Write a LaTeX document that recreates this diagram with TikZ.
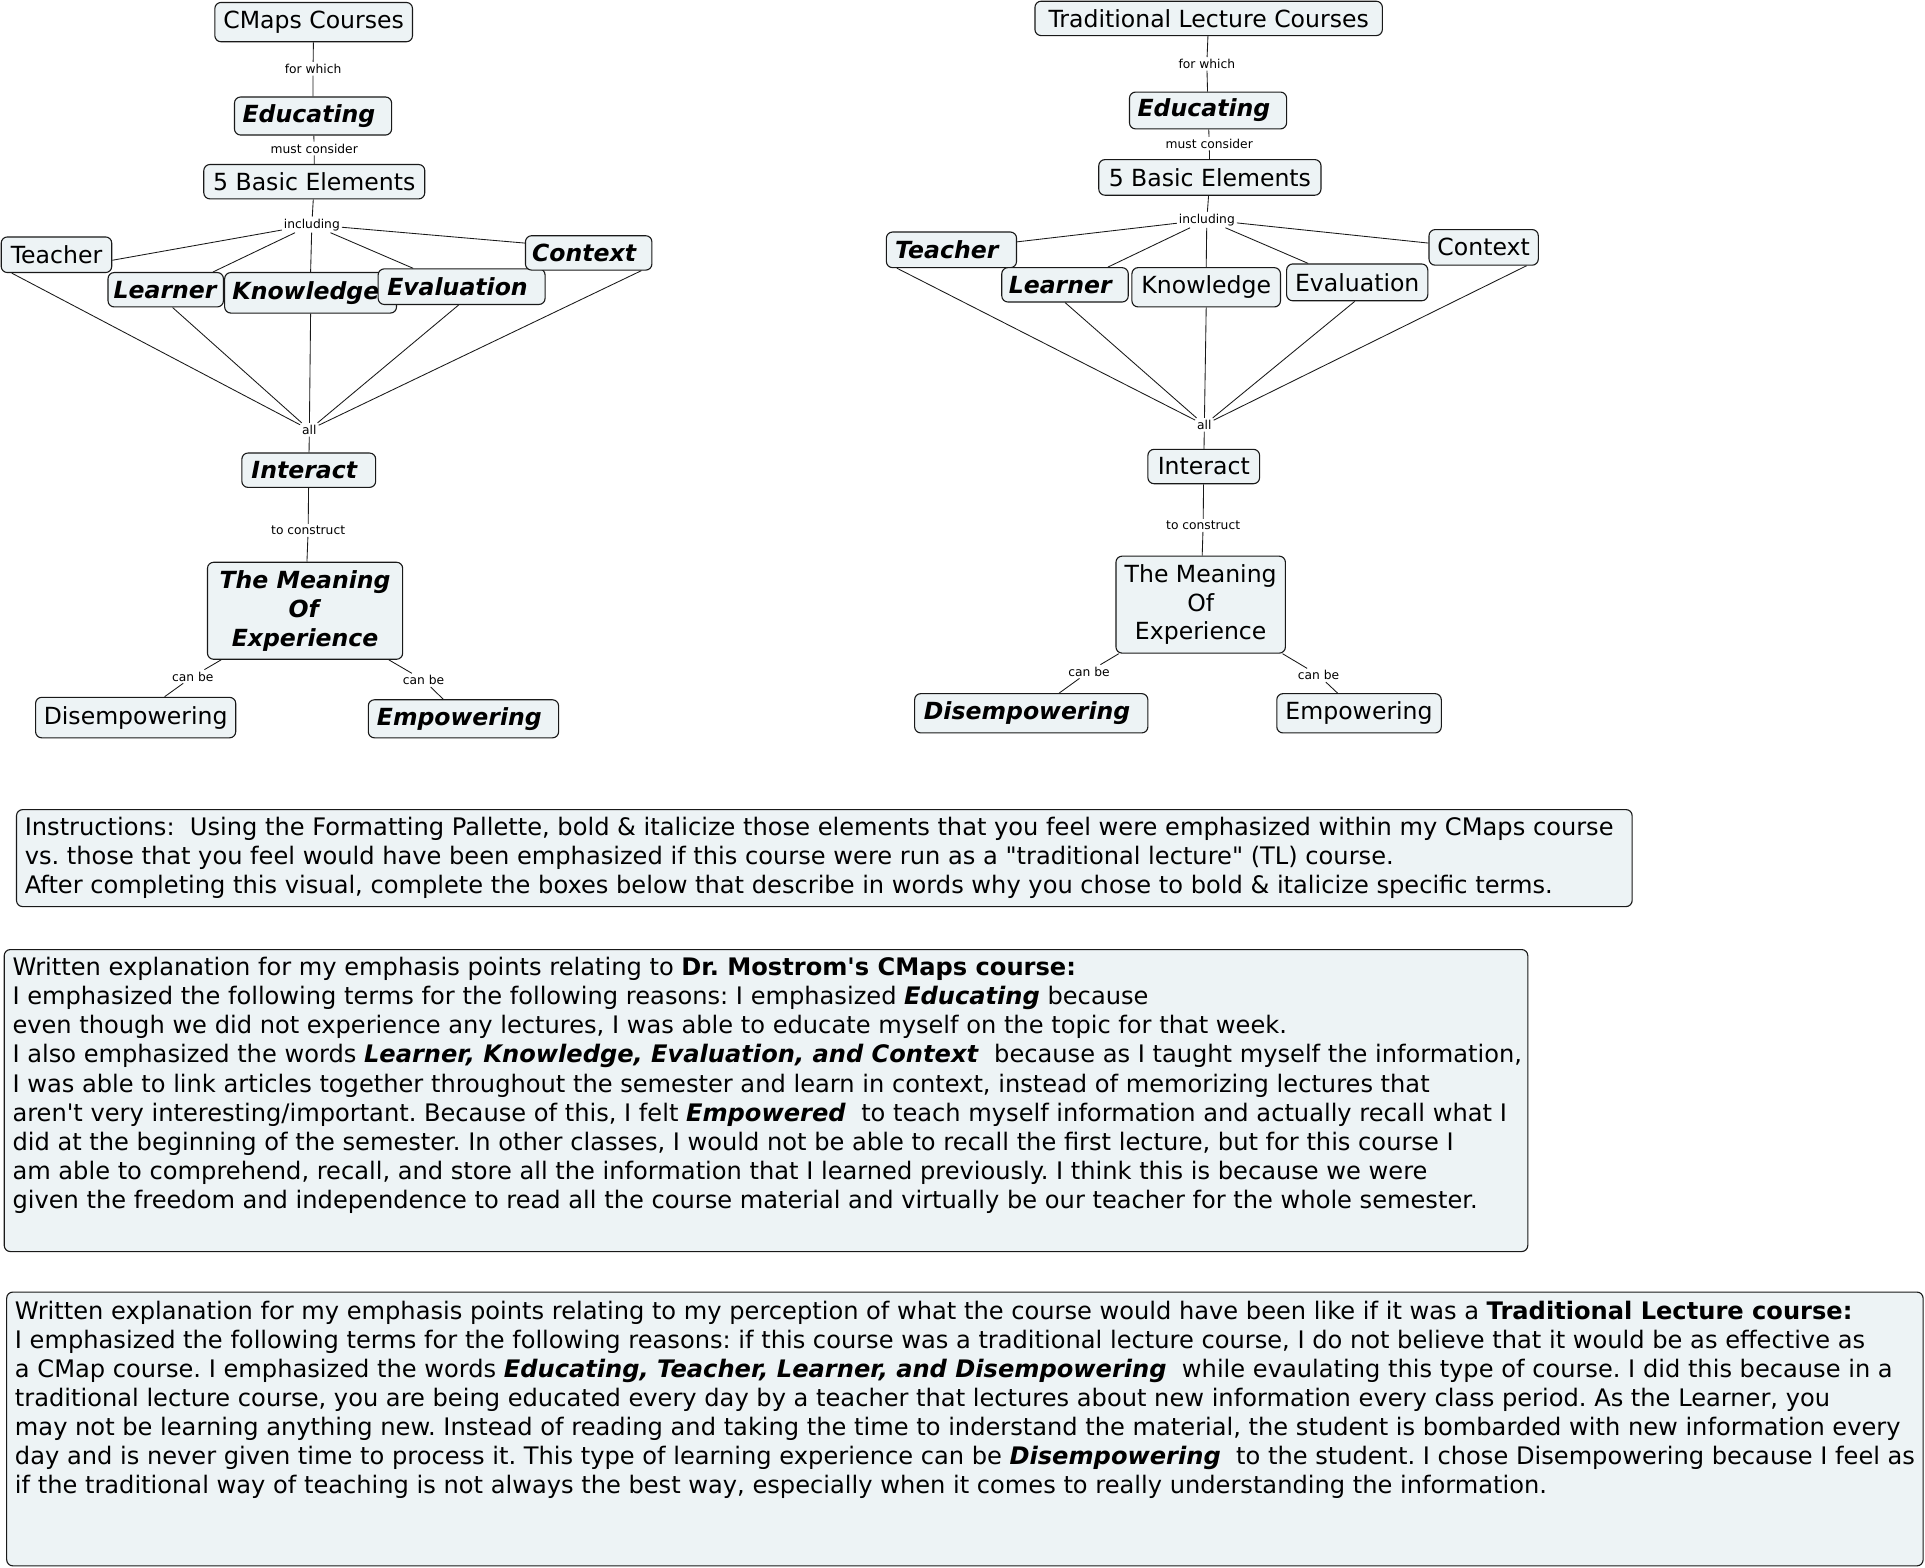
\documentclass[tikz,border=0pt]{standalone}
\usepackage{fontspec}
\setmainfont{DejaVu Sans}[Ligatures=TeXOff]
\usetikzlibrary{calc}
\definecolor{boxfill}{RGB}{237,243,245}
\definecolor{edge}{RGB}{25,25,25}
\newcommand{\bix}[1]{\textbf{\textit{#1}}}
\newcommand{\bic}[1]{\textbf{\textit{#1}}\hspace*{0.35em}}
\frenchspacing
\begin{document}
\begin{tikzpicture}[x=1pt,y=1pt,
  concept/.style={draw=edge, fill=boxfill, rounded corners=5pt, line width=0.9pt, inner sep=0pt, align=center, font=\fontsize{19.2}{23.5}\selectfont},
  linklab/.style={inner sep=1.5pt, font=\fontsize{10}{12}\selectfont},
  conn/.style={draw=edge, line width=0.7pt},
  textbox/.style={draw=edge, fill=boxfill, rounded corners=5pt, line width=0.9pt, inner sep=0pt, anchor=north west},
  bodyline/.style={anchor=base west, inner sep=0pt, font=\fontsize{19.65}{23.7}\selectfont}
]
\useasboundingbox (0,0) rectangle (1568,-1277.2);

% ---------------- left map ----------------
\node[concept, minimum width=161pt, minimum height=32pt] (cmapsL) at (255.5,-18) {CMaps Courses};
\node[concept, minimum width=128pt, minimum height=31pt] (educL) at (255,-94.5) {\bic{Educating}};
\node[concept, minimum width=180pt, minimum height=28pt] (basicL) at (256,-148) {5 Basic Elements};
\node[concept, minimum width=90pt, minimum height=29pt] (teachL) at (46,-207.5) {Teacher};
\node[concept, minimum width=94pt, minimum height=28pt] (learnL) at (135,-236) {\bix{Learner}};
\node[concept, minimum width=140pt, minimum height=33pt] (knowL) at (253,-238.5) {\bix{Knowledge}\hspace*{0.4em}};
\node[concept, minimum width=136pt, minimum height=29pt] (evalL) at (376,-233.5) {\bic{Evaluation}};
\node[concept, minimum width=103pt, minimum height=28pt] (contL) at (479.5,-206) {\bic{Context}};
\node[concept, minimum width=109pt, minimum height=28pt] (interL) at (251.5,-383) {\bic{Interact}};
\node[concept, minimum width=159pt, minimum height=79pt] (meanL) at (248.5,-497.5) {\bix{The Meaning}\\\bix{Of}\\\bix{Experience}};
\node[concept, minimum width=163pt, minimum height=33pt] (disL) at (110.5,-584.5) {Disempowering};
\node[concept, minimum width=155pt, minimum height=31pt] (empL) at (377.5,-585.5) {\bic{Empowering}};

\node[linklab] (forL) at (255,-56) {for which};
\node[linklab] (mustL) at (256,-121) {must consider};
\node[linklab] (inclL) at (254,-183) {including};
\node[linklab] (allL) at (252,-350) {all};
\node[linklab] (constrL) at (251,-432) {to construct};
\node[linklab] (canL1) at (157,-551) {can be};
\node[linklab] (canL2) at (345,-554) {can be};

\draw[conn] (cmapsL) -- (forL) -- (educL);
\draw[conn] (educL) -- (mustL) -- (basicL);
\draw[conn] (basicL) -- (inclL);
\draw[conn] (inclL) -- ([yshift=-4.5pt]teachL.east);
\draw[conn] (inclL) -- ([xshift=-9pt]learnL.north east);
\draw[conn] (inclL) -- (knowL.north);
\draw[conn] (inclL) -- ([xshift=29pt]evalL.north west);
\draw[conn] (inclL) -- ([yshift=8pt]contL.west);
\draw[conn] ([xshift=9pt]teachL.south west) -- (allL);
\draw[conn] ([xshift=53pt]learnL.south west) -- (allL);
\draw[conn] (knowL.south) -- (allL);
\draw[conn] ([xshift=66pt]evalL.south west) -- (allL);
\draw[conn] ([xshift=-9pt]contL.south east) -- (allL);
\draw[conn] (allL) -- (interL);
\draw[conn] (interL) -- (constrL) -- (meanL);
\draw[conn] (meanL) -- (canL1) -- (disL);
\draw[conn] (meanL) -- (canL2) -- (empL);

% ---------------- right map ----------------
\node[concept, minimum width=283pt, minimum height=28pt] (cmapsR) at (984.5,-15) {Traditional Lecture Courses};
\node[concept, minimum width=128pt, minimum height=30pt] (educR) at (984,-90) {\bic{Educating}};
\node[concept, minimum width=181pt, minimum height=29pt] (basicR) at (985.5,-144.5) {5 Basic Elements};
\node[concept, minimum width=106pt, minimum height=29pt] (teachR) at (775,-203.5) {\bic{Teacher}};
\node[concept, minimum width=103pt, minimum height=28pt] (learnR) at (867.5,-232) {\bic{Learner}};
\node[concept, minimum width=121pt, minimum height=32pt] (knowR) at (982.5,-234) {Knowledge};
\node[concept, minimum width=115pt, minimum height=30pt] (evalR) at (1105.5,-230) {Evaluation};
\node[concept, minimum width=89pt, minimum height=29pt] (contR) at (1208.5,-201.5) {Context};
\node[concept, minimum width=91pt, minimum height=28pt] (interR) at (980.5,-380) {Interact};
\node[concept, minimum width=138pt, minimum height=79pt] (meanR) at (978,-492.5) {The Meaning\\Of\\Experience};
\node[concept, minimum width=190pt, minimum height=32pt] (disR) at (840,-581) {\bic{Disempowering}};
\node[concept, minimum width=134pt, minimum height=32pt] (empR) at (1107,-581) {Empowering};

\node[linklab] (forR) at (983,-52) {for which};
\node[linklab] (mustR) at (985,-117) {must consider};
\node[linklab] (inclR) at (983,-179) {including};
\node[linklab] (allR) at (981,-346) {all};
\node[linklab] (constrR) at (980,-428) {to construct};
\node[linklab] (canR1) at (887,-547) {can be};
\node[linklab] (canR2) at (1074,-550) {can be};

\draw[conn] (cmapsR) -- (forR) -- (educR);
\draw[conn] (educR) -- (mustR) -- (basicR);
\draw[conn] (basicR) -- (inclR);
\draw[conn] (inclR) -- ([yshift=6.5pt]teachR.east);
\draw[conn] (inclR) -- ([xshift=-17pt]learnR.north east);
\draw[conn] (inclR) -- (knowR.north);
\draw[conn] (inclR) -- ([xshift=18pt]evalR.north west);
\draw[conn] (inclR) -- ([yshift=3.5pt]contR.west);
\draw[conn] ([xshift=9pt]teachR.south west) -- (allR);
\draw[conn] ([xshift=52pt]learnR.south west) -- (allR);
\draw[conn] (knowR.south) -- (allR);
\draw[conn] ([xshift=56pt]evalR.south west) -- (allR);
\draw[conn] ([xshift=-10pt]contR.south east) -- (allR);
\draw[conn] (allR) -- (interR);
\draw[conn] (interR) -- (constrR) -- (meanR);
\draw[conn] (meanR) -- (canR1) -- (disR);
\draw[conn] (meanR) -- (canR2) -- (empR);

% ---------------- text boxes ----------------
\node[textbox, minimum width=1316pt, minimum height=79pt] (instr) at (13,-659) {};
\node[bodyline] (i1) at (20,-680.5) {Instructions:\ \ Using the Formatting Pallette, bold \& italicize those elements that you feel were emphasized within my CMaps course};
\node[bodyline] (i2) at (20,-704) {vs. those that you feel would have been emphasized if this course were run as a "traditional lecture" (TL) course.};
\node[bodyline] (i3) at (20,-727.5) {After completing this visual, complete the boxes below that describe in words why you chose to bold \& italicize specific terms.};

\node[textbox, minimum width=1241pt, minimum height=246pt] (cmexp) at (3,-773) {};
\node[bodyline] (c1) at (10,-794.5) {Written explanation for my emphasis points relating to \textbf{Dr. Mostrom's CMaps course:}};
\node[bodyline] (c2) at (10,-818.25) {I emphasized the following terms for the following reasons: I emphasized \bix{Educating} because};
\node[bodyline] (c3) at (10,-842) {even though we did not experience any lectures, I was able to educate myself on the topic for that week.};
\node[bodyline] (c4) at (10,-865.75) {I also emphasized the words \bix{Learner, Knowledge, Evaluation, and Context}\ \ because as I taught myself the information,};
\node[bodyline] (c5) at (10,-889.5) {I was able to link articles together throughout the semester and learn in context, instead of memorizing lectures that};
\node[bodyline] (c6) at (10,-913.25) {aren't very interesting/important. Because of this, I felt \bix{Empowered}\ \ to teach myself information and actually recall what I};
\node[bodyline] (c7) at (10,-937) {did at the beginning of the semester. In other classes, I would not be able to recall the first lecture, but for this course I};
\node[bodyline] (c8) at (10,-960.75) {am able to comprehend, recall, and store all the information that I learned previously. I think this is because we were};
\node[bodyline] (c9) at (10,-984.5) {given the freedom and independence to read all the course material and virtually be our teacher for the whole semester.};

\node[textbox, minimum width=1561pt, minimum height=223pt] (tlexp) at (5,-1052) {};
\node[bodyline] (t1) at (12,-1074.5) {Written explanation for my emphasis points relating to my perception of what the course would have been like if it was a \textbf{Traditional Lecture course:}};
\node[bodyline] (t2) at (12,-1098.2) {I emphasized the following terms for the following reasons: if this course was a traditional lecture course, I do not believe that it would be as effective as};
\node[bodyline] (t3) at (12,-1121.8) {a CMap course. I emphasized the words \bix{Educating, Teacher, Learner, and Disempowering}\ \ while evaulating this type of course. I did this because in a};
\node[bodyline] (t4) at (12,-1145.5) {traditional lecture course, you are being educated every day by a teacher that lectures about new information every class period. As the Learner, you};
\node[bodyline] (t5) at (12,-1169.2) {may not be learning anything new. Instead of reading and taking the time to inderstand the material, the student is bombarded with new information every};
\node[bodyline] (t6) at (12,-1192.8) {day and is never given time to process it. This type of learning experience can be \bix{Disempowering}\ \ to the student. I chose Disempowering because I feel as};
\node[bodyline] (t7) at (12,-1216.5) {if the traditional way of teaching is not always the best way, especially when it comes to really understanding the information.};
\end{tikzpicture}
\end{document}
